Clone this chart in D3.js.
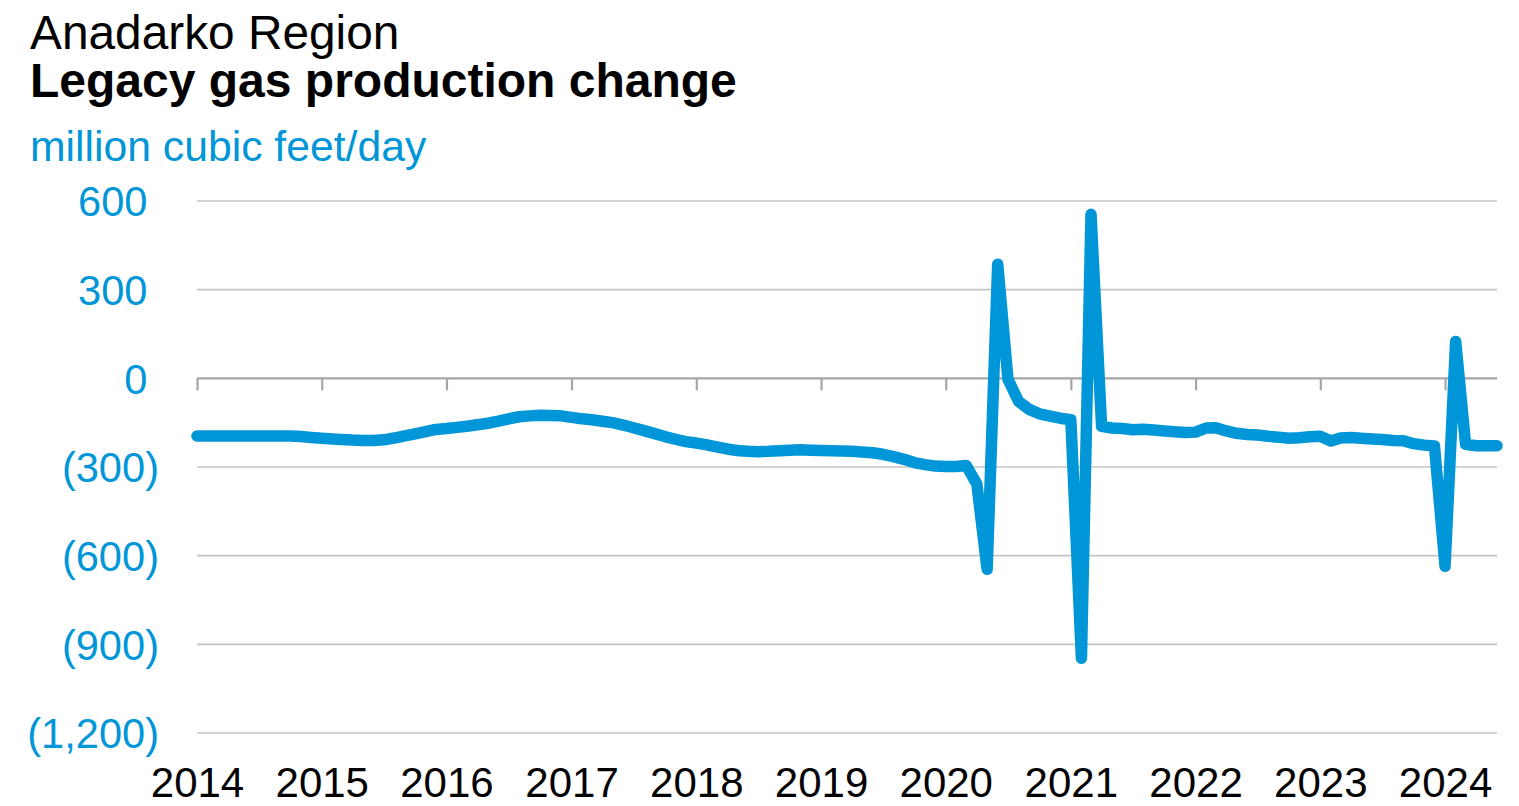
<!DOCTYPE html>
<html>
<head>
<meta charset="utf-8">
<script src="https://cdn.jsdelivr.net/npm/d3@7"></script>
<style>
  html, body { margin: 0; padding: 0; background: #fff; }
  svg { display: block; }
</style>
</head>
<body>
<svg id="chart" width="1519" height="806"></svg>
<script>
// ---- Data ----
const titleLine1 = "Anadarko Region";
const titleLine2 = "Legacy gas production change";
const unitLabel = "million cubic feet/day";
const startMonth = "2014-01";           // first monthly observation
const values = [
  // 2014
  -195,-195,-195,-195,-195,-195,-195,-195,-195,-195,-197,-200,
  // 2015
  -203,-205,-207,-209,-210,-210,-208,-202,-195,-188,-180,-173,
  // 2016
  -170,-166,-162,-157,-152,-145,-137,-130,-127,-125,-126,-127,
  // 2017
  -132,-137,-140,-145,-150,-158,-167,-177,-187,-197,-206,-214,
  // 2018
  -219,-225,-232,-239,-244,-247,-248,-247,-245,-243,-242,-243,
  // 2019
  -244,-245,-246,-247,-249,-252,-257,-265,-274,-285,-292,-297,
  // 2020
  -298,-298,-295,-358,-646,386,-3,-78,-105,-120,-128,-135,
  // 2021
  -140,-947,555,-162,-168,-170,-174,-172,-175,-178,-181,-183,
  // 2022
  -182,-168,-167,-178,-186,-190,-192,-196,-199,-203,-201,-198,
  // 2023
  -196,-212,-202,-200,-203,-205,-207,-210,-211,-221,-226,-229,
  // 2024
  -636,125,-223,-228,-228,-228
];
const yTicks = [600, 300, 0, -300, -600, -900, -1200];
const yearTicks = [2014,2015,2016,2017,2018,2019,2020,2021,2022,2023,2024];

// ---- Layout ----
(function () {
const blue = "#0096d7";
const mLeft = 197, mRight = 1497, mTop = 201, mBottom = 733;
const svg = d3.select("#chart");
const font = "'Liberation Sans', Arial, sans-serif";

const parse = d3.timeParse("%Y-%m");
const t0 = parse(startMonth);
const data = values.map((v, i) => ({ date: d3.timeMonth.offset(t0, i), value: v }));

const x = d3.scaleTime()
  .domain([t0, data[data.length - 1].date])
  .range([mLeft, mRight]);
const y = d3.scaleLinear().domain([-1200, 600]).range([mBottom, mTop]);

// Titles
svg.append("text").attr("x", 30).attr("y", 49)
  .attr("font-family", font).attr("font-size", 47.8).attr("fill", "#000")
  .text(titleLine1);
svg.append("text").attr("x", 30).attr("y", 97)
  .attr("font-family", font).attr("font-size", 48).attr("font-weight", "bold").attr("fill", "#000")
  .text(titleLine2);
svg.append("text").attr("x", 30).attr("y", 161)
  .attr("font-family", font).attr("font-size", 42.7).attr("fill", blue)
  .text(unitLabel);

// Gridlines
svg.append("g").selectAll("line")
  .data(yTicks.filter(d => d !== 0))
  .join("line")
  .attr("x1", mLeft).attr("x2", mRight)
  .attr("y1", d => y(d)).attr("y2", d => y(d))
  .attr("stroke", "#c4c4c4").attr("stroke-width", 1.6);

// Y axis labels
const fmt = d => d < 0 ? "(" + d3.format(",")(-d) + ")" : d3.format(",")(d);
const yAxis = d3.axisLeft(y).tickValues(yTicks).tickSize(0).tickPadding(0).tickFormat(fmt);
const gy = svg.append("g").attr("transform", `translate(159,0)`).call(yAxis);
gy.select(".domain").remove();
gy.selectAll("text")
  .attr("font-family", font).attr("font-size", 41.6).attr("fill", blue)
  .attr("dy", "0.36em")
  .attr("dx", d => d < 0 ? 0 : -11.5);

// Zero axis with year ticks
const xAxis = d3.axisBottom(x)
  .tickValues(yearTicks.map(yr => new Date(yr, 0, 1)))
  .tickSize(12).tickSizeOuter(0).tickPadding(0)
  .tickFormat(d3.timeFormat("%Y"));
const gx = svg.append("g").attr("transform", `translate(0,${y(0)})`).call(xAxis);
gx.select(".domain").attr("stroke", "#a6a6a6").attr("stroke-width", 2.2)
  .attr("d", `M${mLeft},0H${mRight}`);
gx.selectAll(".tick line").attr("stroke", "#a6a6a6").attr("stroke-width", 2.2);
gx.selectAll(".tick text").remove();

// Year labels at bottom
const gx2 = svg.append("g").attr("transform", `translate(0,${mBottom})`)
  .call(d3.axisBottom(x)
    .tickValues(yearTicks.map(yr => new Date(yr, 0, 1)))
    .tickSize(0).tickPadding(0).tickFormat(d3.timeFormat("%Y")));
gx2.select(".domain").remove();
gx2.selectAll("text")
  .attr("font-family", font).attr("font-size", 42).attr("fill", "#000")
  .attr("dy", 0).attr("y", 64);

// Line
const line = d3.line().x(d => x(d.date)).y(d => y(d.value));
svg.append("path").datum(data)
  .attr("d", line)
  .attr("fill", "none")
  .attr("stroke", blue)
  .attr("stroke-width", 11.5)
  .attr("stroke-linejoin", "round")
  .attr("stroke-linecap", "round");
})();
</script>
</body>
</html>
